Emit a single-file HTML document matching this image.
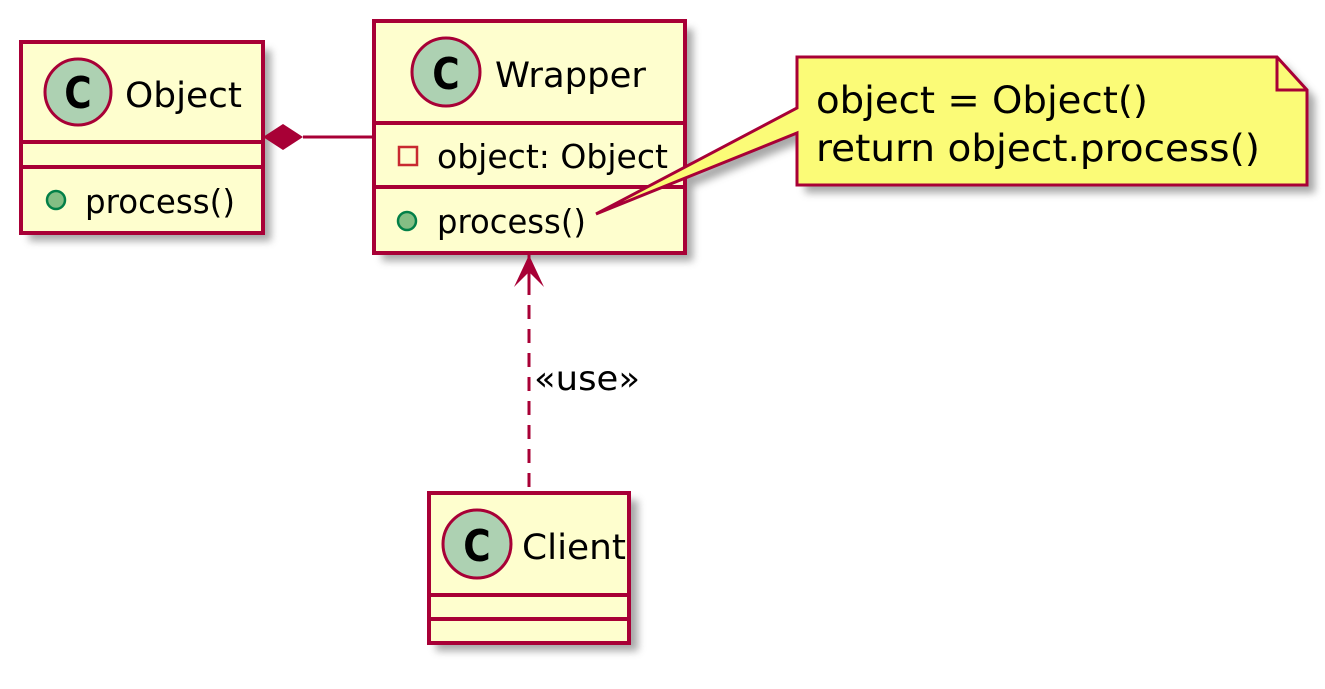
<!DOCTYPE html>
<html><head><meta charset="utf-8"><style>
html,body{margin:0;padding:0;background:#fff;}
svg text{font-family:"DejaVu Sans","Liberation Sans",sans-serif;fill:#000;}
</style></head><body>
<svg width="1325" height="684" viewBox="0 0 1325 684" xmlns="http://www.w3.org/2000/svg">
<defs><filter id="sh" x="-10%" y="-10%" width="130%" height="130%"><feGaussianBlur stdDeviation="4"/></filter></defs>
<g fill="#999" filter="url(#sh)" opacity="0.85">
<rect x="29" y="50" width="242" height="191"/>
<rect x="382" y="29" width="311" height="232"/>
<rect x="436" y="500" width="202" height="151"/>
<path d="M805 65 L1285 65 L1315 98 L1315 193 L805 193 Z"/>
<path d="M604 222 L805 116 L805 141 Z"/>
</g>
<rect x="21" y="42" width="242" height="191" fill="#FEFECE" stroke="#A80036" stroke-width="4"/>
<line x1="21" y1="142" x2="263" y2="142" stroke="#A80036" stroke-width="4"/>
<line x1="21" y1="167" x2="263" y2="167" stroke="#A80036" stroke-width="4"/>
<circle cx="78" cy="92" r="33" fill="#ADD1B2" stroke="#A80036" stroke-width="3"/>
<text x="78" y="108" font-size="44" font-weight="bold" text-anchor="middle" transform="translate(78 0) scale(0.85 1) translate(-78 0)">C</text>
<text x="125" y="107" font-size="35" textLength="117" lengthAdjust="spacingAndGlyphs">Object</text>
<circle cx="56" cy="200" r="9" fill="#84BE84" stroke="#038048" stroke-width="2.5"/>
<text x="85" y="213" font-size="33" textLength="150" lengthAdjust="spacingAndGlyphs">process()</text>
<line x1="303" y1="137" x2="374" y2="137" stroke="#A80036" stroke-width="3"/>
<path d="M263 137 L283 124 L303 137 L283 150 Z" fill="#A80036"/>
<rect x="374" y="21" width="311" height="232" fill="#FEFECE" stroke="#A80036" stroke-width="4"/>
<line x1="374" y1="123" x2="685" y2="123" stroke="#A80036" stroke-width="4"/>
<line x1="374" y1="187" x2="685" y2="187" stroke="#A80036" stroke-width="4"/>
<circle cx="446" cy="72" r="34" fill="#ADD1B2" stroke="#A80036" stroke-width="3"/>
<text x="446" y="89" font-size="44" font-weight="bold" text-anchor="middle" transform="translate(446 0) scale(0.85 1) translate(-446 0)">C</text>
<text x="495" y="87" font-size="35" textLength="151" lengthAdjust="spacingAndGlyphs">Wrapper</text>
<rect x="399" y="147" width="18" height="18" fill="none" stroke="#C82930" stroke-width="2.5"/>
<text x="437" y="168" font-size="33" textLength="231" lengthAdjust="spacingAndGlyphs">object: Object</text>
<circle cx="407" cy="221" r="9" fill="#84BE84" stroke="#038048" stroke-width="2.5"/>
<text x="437" y="233" font-size="33" textLength="149" lengthAdjust="spacingAndGlyphs">process()</text>
<line x1="529" y1="257" x2="529" y2="492" stroke="#A80036" stroke-width="3" stroke-dasharray="14,10"/>
<path d="M514 287 L529 255 L544 287 L529 272 Z" fill="#A80036"/>
<line x1="529" y1="255" x2="529" y2="288" stroke="#A80036" stroke-width="3"/>
<text x="534" y="390" font-size="34" textLength="106" lengthAdjust="spacingAndGlyphs">«use»</text>
<rect x="429" y="493" width="200" height="150" fill="#FEFECE" stroke="#A80036" stroke-width="4"/>
<line x1="429" y1="595" x2="629" y2="595" stroke="#A80036" stroke-width="4"/>
<line x1="429" y1="619" x2="629" y2="619" stroke="#A80036" stroke-width="4"/>
<circle cx="477" cy="544" r="34" fill="#ADD1B2" stroke="#A80036" stroke-width="3"/>
<text x="477" y="561" font-size="44" font-weight="bold" text-anchor="middle" transform="translate(477 0) scale(0.85 1) translate(-477 0)">C</text>
<text x="522" y="559" font-size="35" textLength="104" lengthAdjust="spacingAndGlyphs">Client</text>
<path d="M797 57 L1277 57 L1307 90 L1307 185 L797 185 L797 133 L596 214 L797 108 Z" fill="#FBFB77" stroke="#A80036" stroke-width="3"/>
<path d="M1277 57 L1277 90 L1307 90" fill="none" stroke="#A80036" stroke-width="3"/>
<text x="816" y="113" font-size="37" textLength="332" lengthAdjust="spacingAndGlyphs">object = Object()</text>
<text x="816" y="161" font-size="37" textLength="444" lengthAdjust="spacingAndGlyphs">return object.process()</text>
</svg>
</body></html>
